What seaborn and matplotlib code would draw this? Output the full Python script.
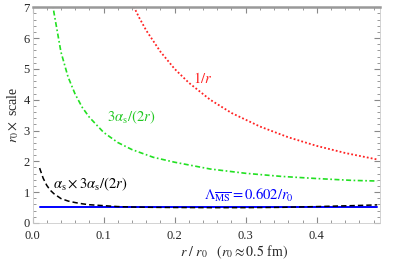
import matplotlib
matplotlib.use("Agg")
import matplotlib.pyplot as plt
import seaborn as sns
import pandas as pd
from matplotlib.ticker import MultipleLocator

# ---- data ----
x_as = [0.01, 0.015, 0.02, 0.025, 0.03, 0.04, 0.05, 0.06, 0.07, 0.08, 0.10,
        0.12, 0.14, 0.17, 0.20, 0.25, 0.30, 0.35, 0.40, 0.45, 0.485]
green_vals = [16.2, 11.9, 9.45, 7.92, 6.85, 5.55, 4.74, 4.18, 3.75, 3.43, 2.94,
              2.61, 2.38, 2.13, 1.97, 1.75, 1.61, 1.51, 1.44, 1.38, 1.36]
black_vals = [1.78, 1.45, 1.22, 1.06, 0.95, 0.79, 0.71, 0.66, 0.62, 0.59, 0.56,
              0.53, 0.515, 0.505, 0.50, 0.495, 0.495, 0.505, 0.53, 0.56, 0.585]
x_red = [0.14, 0.15, 0.16, 0.18, 0.20, 0.22, 0.25, 0.28, 0.32, 0.36, 0.40, 0.44, 0.485]
red_vals = [7.14, 6.67, 6.25, 5.56, 5.0, 4.55, 4.0, 3.57, 3.13, 2.78, 2.5, 2.27, 2.06]
x_blue = [0.01, 0.485]
blue_vals = [0.526, 0.526]

labels = {
    "red": r"$1/r$",
    "green": r"$3\alpha_{\rm s}/(2r)$",
    "black": r"$\alpha_{\rm s}\times 3\alpha_{\rm s}/(2r)$",
    "blue": r"$\Lambda_{\overline{\rm MS}} = 0.602/r_0$",
}

sns.set_style("ticks")
plt.rcParams["font.family"] = ["Liberation Serif", "DejaVu Serif"]
plt.rcParams["mathtext.fontset"] = "stix"

fig = plt.figure(figsize=(4.09, 2.60), dpi=100)
ax = fig.add_axes([0.0795, 0.1427, 0.8495, 0.8292])

df_g = pd.DataFrame({"x": x_as, "y": green_vals})
df_k = pd.DataFrame({"x": x_as, "y": black_vals})
df_r = pd.DataFrame({"x": x_red, "y": red_vals})
df_b = pd.DataFrame({"x": x_blue, "y": blue_vals})

sns.lineplot(data=df_b, x="x", y="y", ax=ax, color="#0000ff", lw=1.4)
sns.lineplot(data=df_k, x="x", y="y", ax=ax, color="black", lw=1.1,
             linestyle=(0, (3.5, 2)))
sns.lineplot(data=df_g, x="x", y="y", ax=ax, color="#22e022", lw=1.2,
             linestyle=(0, (3, 1.5, 1, 1.5)))
sns.lineplot(data=df_r, x="x", y="y", ax=ax, color="#ff2222", lw=1.3,
             linestyle=(0, (1, 1.2)))

ax.set_xlim(0, 0.489)
ax.set_ylim(0, 7)

fs = 10.5
ax.text(0.24, 4.7, labels["red"], color="#ff2222", fontsize=fs, ha="center", va="center")
ax.text(0.139, 3.44, labels["green"], color="#22c822", fontsize=fs, ha="center", va="center")
ax.text(0.081, 1.25, labels["black"], color="black", fontsize=fs, ha="center", va="center")
ax.text(0.305, 0.88, labels["blue"], color="#0000ff", fontsize=fs, ha="center", va="center")

ax.xaxis.set_major_locator(MultipleLocator(0.1))
ax.xaxis.set_minor_locator(MultipleLocator(0.02))
ax.yaxis.set_major_locator(MultipleLocator(1))
ax.yaxis.set_minor_locator(MultipleLocator(0.2))
ax.set_xticks([0.0, 0.1, 0.2, 0.3, 0.4])
ax.set_xticklabels(["0.0", "0.1", "0.2", "0.3", "0.4"])
ax.tick_params(which="both", direction="in", top=True, right=True, color="#888888",
               labelsize=9)
ax.tick_params(axis="x", pad=5)
ax.tick_params(axis="y", pad=2)
ax.tick_params(which="major", length=4, width=0.8)
ax.tick_params(which="minor", length=2, width=0.6)

for side in ["left", "right", "bottom"]:
    ax.spines[side].set_color("#cccccc")
    ax.spines[side].set_linewidth(0.6)
ax.spines["top"].set_color("#999999")
ax.spines["top"].set_linewidth(1.8)

ax.set_xlabel(r"$r\ /\ r_0\quad (r_0\approx 0.5$ fm$)$", fontsize=10, labelpad=1)
ax.xaxis.label.set_x(0.58)
ax.set_ylabel(r"$r_0\times$ scale", fontsize=10, labelpad=2)

fig.savefig("out.png", dpi=100)
